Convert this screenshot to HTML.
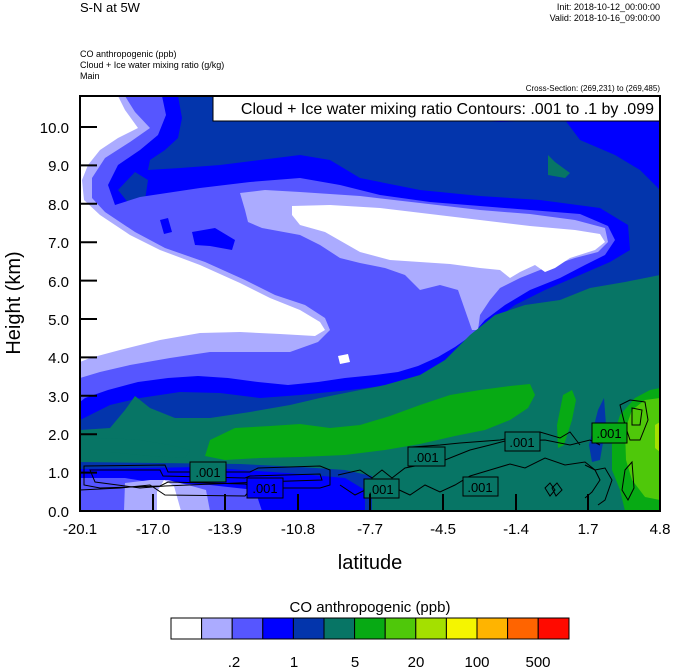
<!DOCTYPE html>
<html><head><meta charset="utf-8"><style>
html,body{margin:0;padding:0;background:#fff;}
svg{display:block;font-family:"Liberation Sans",Arial,sans-serif;}
</style></head><body>
<svg width="674" height="668" viewBox="0 0 674 668" xmlns="http://www.w3.org/2000/svg">
<defs><clipPath id="pc"><rect x="80" y="96" width="580" height="415"/></clipPath></defs>
<text x="80" y="12" font-size="13">S-N at 5W</text>
<text x="660" y="10" font-size="9" text-anchor="end">Init: 2018-10-12_00:00:00</text>
<text x="660" y="21" font-size="9" text-anchor="end">Valid: 2018-10-16_09:00:00</text>
<text x="80" y="57" font-size="9">CO anthropogenic   (ppb)</text>
<text x="80" y="68" font-size="9">Cloud + Ice water mixing ratio   (g/kg)</text>
<text x="80" y="79" font-size="9">Main</text>
<text x="660" y="91" font-size="8" text-anchor="end">Cross-Section: (269,231) to (269,485)</text>
<g clip-path="url(#pc)">
<rect x="80" y="96" width="580" height="415" fill="#0335ac"/>
<!-- top-right blue -->
<path d="M300,96 L660,96 L660,190 L640,170 L615,155 L580,140 L565,120 L500,122 L430,118 L380,110 L330,108 Z" fill="#0000ff"/>
<path d="M80,96 L178,96 L182,118 L178,138 L165,150 L150,160 L148,170 L180,168 L220,165 L260,160 L300,155 L330,160 L360,178 L420,190 L480,196 L540,200 L600,208 L628,225 L630,250 L610,262 L580,275 L545,290 L515,305 L495,320 L480,335 L465,350 L445,362 L420,375 L390,385 L350,390 L300,395 L260,398 L220,393 L180,392 L140,398 L110,405 L80,420 Z" fill="#0000ff"/>
<!-- dark blue blob inside -->
<path d="M118,190 L135,172 L148,180 L145,200 L130,205 Z" fill="#0335ac"/>
<!-- medium -->
<path d="M80,96 L162,96 L166,115 L158,135 L140,150 L118,165 L108,185 L115,205 L140,197 L200,188 L250,182 L300,178 L340,185 L380,195 L430,202 L480,206 L530,210 L580,214 L608,226 L615,240 L605,255 L585,265 L560,278 L530,290 L505,305 L485,320 L472,335 L455,347 L438,357 L418,366 L398,372 L375,375 L345,378 L318,382 L288,385 L258,382 L228,378 L198,376 L168,378 L138,382 L108,390 L85,398 L80,402 Z" fill="#5656ff"/>
<path d="M160,220 L168,218 L172,232 L164,234 Z M192,232 L215,228 L235,240 L232,250 L210,246 L195,245 Z" fill="#0000ff"/>
<!-- light -->
<path d="M80,96 L125,96 L135,112 L150,128 L130,142 L105,158 L92,178 L92,198 L105,212 L135,232 L165,248 L205,262 L245,280 L275,295 L305,305 L325,318 L330,330 L318,342 L290,352 L250,352 L210,352 L170,358 L130,365 L100,372 L80,378 Z" fill="#ababff"/>
<path d="M240,193 L265,190 L300,192 L360,196 L420,203 L480,210 L530,214 L575,220 L605,228 L608,242 L598,252 L575,258 L545,268 L520,278 L500,288 L490,300 L480,315 L478,330 L472,330 L465,310 L458,290 L440,285 L420,290 L405,275 L385,268 L360,263 L340,258 L320,245 L300,235 L262,228 L248,222 L245,210 Z" fill="#ababff"/>
<path d="M335,352 L350,350 L360,356 L352,366 L335,366 Z" fill="#5656ff"/>
<path d="M338,356 L348,354 L350,362 L340,364 Z" fill="#ffffff"/>
<!-- white -->
<path d="M80,96 L118,96 L125,110 L138,128 L118,138 L100,150 L88,165 L82,180 L84,200 L100,215 L130,235 L160,250 L200,265 L240,283 L270,298 L300,310 L320,322 L325,330 L315,336 L280,334 L240,332 L200,333 L160,340 L120,350 L90,358 L80,362 Z" fill="#ffffff"/>
<path d="M292,206 L330,205 L380,208 L430,214 L480,220 L530,226 L575,230 L600,234 L605,242 L595,250 L570,258 L555,268 L545,272 L535,265 L520,272 L510,278 L500,270 L480,268 L450,264 L420,262 L390,260 L360,252 L325,232 L300,225 L292,215 Z" fill="#ffffff"/>
<!-- teal -->
<path d="M80,430 L110,428 L125,410 L135,396 L150,408 L175,418 L210,418 L250,412 L290,405 L320,398 L350,392 L385,385 L420,375 L445,360 L470,335 L495,315 L525,305 L560,300 L590,288 L625,282 L660,275 L660,511 L80,511 Z" fill="#077565"/>
<path d="M548,155 L555,162 L570,173 L565,178 L548,175 Z" fill="#077565"/>
<!-- greens -->
<path d="M210,440 L235,428 L270,426 L300,424 L330,428 L360,425 L390,416 L420,405 L450,395 L480,390 L510,386 L530,384 L535,395 L528,408 L510,420 L485,430 L455,436 L420,444 L385,450 L345,455 L300,457 L260,458 L225,460 L205,456 Z" fill="#07aa14"/>
<path d="M80,440 L110,438 L140,440 L170,445 L190,450 L185,458 L150,456 L110,452 L80,452 Z" fill="#077565"/>
<path d="M563,395 L572,390 L576,400 L572,420 L564,445 L558,448 L557,425 Z" fill="#07aa14"/>
<path d="M612,440 L620,415 L635,398 L650,390 L660,388 L660,511 L625,511 L620,490 L612,470 Z" fill="#07aa14"/>
<path d="M625,430 L632,410 L645,400 L660,398 L660,500 L645,497 L632,480 L626,460 Z" fill="#4fc80a"/>
<path d="M655,425 L660,422 L660,452 L655,448 Z" fill="#a4e000"/>
<path d="M598,410 L604,398 L606,425 L600,460 L592,462 L589,445 Z" fill="#0335ac"/>
<!-- bottom blues -->
<path d="M80,462 L240,464 L300,467 L345,470 L372,476 L372,511 L80,511 Z" fill="#0335ac"/>
<path d="M80,469 L200,467 L300,474 L345,478 L365,490 L365,511 L80,511 Z" fill="#0000ff"/>
<path d="M80,478 L125,478 L150,482 L210,485 L255,490 L262,511 L80,511 Z" fill="#5656ff"/>
<path d="M125,483 L150,480 L168,480 L188,485 L206,490 L210,511 L124,511 Z" fill="#ababff"/>
<path d="M157,492 L164,480 L174,486 L181,511 L157,511 Z" fill="#ffffff"/>
<!-- contours -->
<g fill="none" stroke="#000" stroke-width="1">
<path d="M84,466 L165,465 L168,472 L250,472 L258,468 L320,466 L330,470 L330,485 L320,488 L260,488 L245,484 L168,482 L160,486 L100,488 L84,485 Z"/>
<path d="M90,470 L160,470 L163,476 L245,478 L250,476 L320,474 L322,480 L260,482 L165,486 L140,488 L95,482 Z"/>
<path d="M80,490 L120,488 L150,485 L165,495 L245,496 L250,490"/>
<path d="M338,475 L360,470 L372,478 L382,470 L392,478 L405,468 L445,460 L470,450 L490,445 L505,441 L545,440 L570,445 L590,440 L600,445"/>
<path d="M340,485 L355,495 L365,490 L382,496 L395,488 L410,495 L425,485 L440,492 L455,485 L470,476 L490,470 L510,464 L525,468 L545,458 L565,465 L585,462 L595,470 L600,480 L592,492 L585,498"/>
<path d="M412,447 L440,445 L460,443 L500,440 L540,432 L560,438 L570,432 L580,445"/>
<path d="M620,405 L630,400 L645,402 L648,420 L640,440 L630,440 L625,425 Z"/>
<path d="M632,408 L642,410 L640,425 L632,425 Z"/>
<path d="M545,488 L550,483 L555,490 L550,496 Z M552,488 L557,483 L562,490 L556,496 Z"/>
<path d="M625,470 L632,462 L634,488 L628,500 L622,490 Z"/>
<path d="M585,465 L595,470 L605,468 L612,480 L605,500 L598,505"/>
</g>
</g>
<!-- label boxes -->
<g font-size="13" text-anchor="middle">
<rect x="190" y="462" width="36" height="20" fill="#077565" stroke="#000"/><text x="208" y="477">.001</text>
<rect x="247" y="478" width="36" height="20" fill="#0000ff" stroke="#000"/><text x="265" y="493">.001</text>
<rect x="364" y="479" width="35" height="19" fill="#077565" stroke="#000"/><text x="381" y="494">.001</text>
<rect x="408" y="447" width="37" height="19" fill="#077565" stroke="#000"/><text x="426" y="462">.001</text>
<rect x="463" y="477" width="35" height="19" fill="#077565" stroke="#000"/><text x="480" y="492">.001</text>
<rect x="505" y="432" width="35" height="19" fill="#077565" stroke="#000"/><text x="522" y="447">.001</text>
<rect x="592" y="423" width="35" height="20" fill="#07aa14" stroke="#000"/><text x="609" y="438">.001</text>
</g>
<!-- legend box -->
<rect x="213" y="96" width="447" height="25" fill="#fff" stroke="#000"/>
<text x="654" y="114" font-size="16" text-anchor="end">Cloud + Ice water mixing ratio Contours: .001 to .1 by .099</text>
<!-- frame + ticks -->
<rect x="80" y="96" width="580" height="415" fill="none" stroke="#000" stroke-width="2"/>
<g stroke="#000" stroke-width="2">
<path d="M80,511 h17 M80,472.6 h17 M80,434.2 h17 M80,395.8 h17 M80,357.4 h17 M80,319 h17 M80,280.6 h17 M80,242.2 h17 M80,203.8 h17 M80,165.4 h17 M80,127 h17"/>
<path d="M153,511 v-17 M225,511 v-17 M298,511 v-17 M370,511 v-17 M443,511 v-17 M516,511 v-17 M588,511 v-17"/>
</g>
<g font-size="15" text-anchor="end">
<text x="69" y="517">0.0</text><text x="69" y="478">1.0</text><text x="69" y="440">2.0</text><text x="69" y="402">3.0</text><text x="69" y="363">4.0</text><text x="69" y="325">5.0</text><text x="69" y="287">6.0</text><text x="69" y="248">7.0</text><text x="69" y="210">8.0</text><text x="69" y="171">9.0</text><text x="69" y="133">10.0</text>
</g>
<g font-size="15" text-anchor="middle">
<text x="80" y="534">-20.1</text><text x="153" y="534">-17.0</text><text x="225" y="534">-13.9</text><text x="298" y="534">-10.8</text><text x="370" y="534">-7.7</text><text x="443" y="534">-4.5</text><text x="516" y="534">-1.4</text><text x="588" y="534">1.7</text><text x="660" y="534">4.8</text>
</g>
<text x="370" y="569" font-size="20" text-anchor="middle">latitude</text>
<text transform="translate(20,303) rotate(-90)" font-size="20" text-anchor="middle">Height (km)</text>
<!-- colorbar -->
<text x="370" y="612" font-size="15" text-anchor="middle">CO anthropogenic  (ppb)</text>
<g stroke="#000" stroke-width="1">
<rect x="171" y="618" width="30.6" height="21" fill="#ffffff"/>
<rect x="201.6" y="618" width="30.6" height="21" fill="#ababff"/>
<rect x="232.2" y="618" width="30.6" height="21" fill="#5656ff"/>
<rect x="262.8" y="618" width="30.6" height="21" fill="#0000ff"/>
<rect x="293.4" y="618" width="30.6" height="21" fill="#0335ac"/>
<rect x="324" y="618" width="30.6" height="21" fill="#077565"/>
<rect x="354.6" y="618" width="30.6" height="21" fill="#07aa14"/>
<rect x="385.2" y="618" width="30.6" height="21" fill="#4fc80a"/>
<rect x="415.8" y="618" width="30.6" height="21" fill="#a4e000"/>
<rect x="446.4" y="618" width="30.6" height="21" fill="#f5f500"/>
<rect x="477" y="618" width="30.6" height="21" fill="#ffb400"/>
<rect x="507.6" y="618" width="30.6" height="21" fill="#ff6400"/>
<rect x="538.2" y="618" width="30.8" height="21" fill="#ff0a00"/>
</g>
<g font-size="15" text-anchor="middle">
<text x="234" y="667">.2</text><text x="294" y="667">1</text><text x="355" y="667">5</text><text x="416" y="667">20</text><text x="477" y="667">100</text><text x="538" y="667">500</text>
</g>
</svg>
</body></html>
